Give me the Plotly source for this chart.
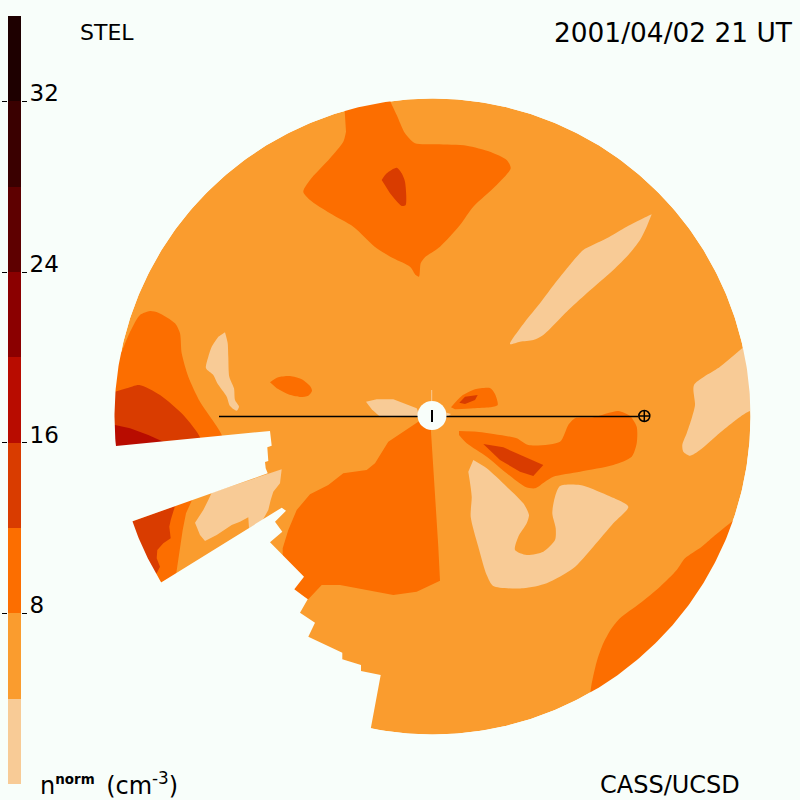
import numpy as np
import plotly.graph_objects as go

BG = "#F8FEFA"
level_edges = [0, 4, 8, 12, 16, 20, 24, 28, 32]
level_step = [4] * 9
level_colors = ["#F8CB96", "#FA9C2E", "#FC6E00", "#D93C00", "#B80C00",
                "#8B0000", "#5E0000", "#3A0000", "#1E0000"]
tick_vals = [8, 16, 24, 32]
L1, L2, L3, L4, L5 = level_colors[:5]

disk_center = (432.5, 416.5)
disk_radius = 318

# contour regions (image-plane units)
rim_left_l3 = [(121.7,351.7),(130,332),(140,315),(150,311),(158.3,312.7),(175,323.3),(180,333.3),(181.7,353.3),(188.3,376.7),(200,401.7),(221.7,435),(221.7,445),(100,450),(100,350)]
rim_left_l4 = [(115,391.7),(126.7,388.3),(139.3,385),(160,395),(183.3,415),(200,437.3),(200,445),(100,450),(100,392)]
rim_left_l5 = [(115,425),(130,428.3),(148.3,435),(163.3,441.7),(163.3,450),(100,450),(100,425)]
wedge_l3 = [(175,500),(191.7,495),(191.7,500.7),(186,513.3),(182.7,530),(180,550),(176,575),(162.3,581.7),(140,590),(120,525),(133,515)]
wedge_l4 = [(133.3,521),(175,506),(170.7,520),(169.3,526.7),(170.7,538.3),(163.3,543.3),(157.3,550),(156.7,558.3),(160,566.7),(156.7,573.3),(140,580),(120,525)]
wedge_l1 = [(211.7,492.7),(281.7,469.3),(280,483.3),(273.3,491.7),(270.7,500),(268.3,510),(262.3,520.7),(249,528.3),(248.3,517.3),(240,521.7),(231.7,525),(216.7,535),(205,541),(200,535),(195,522.7),(203.3,510),(208.3,500)]
left_light = [(225,332.3),(227.7,343.3),(228.3,356.7),(229.3,376.7),(234,388.3),(235,400),(239,406.7),(236.7,410.7),(230,406),(226.7,396.7),(217.3,383.3),(213.3,375),(206,368.3),(208.3,356.7),(211.7,346.7),(218.3,336.7)]
small_oval = [(270,382.3),(278.3,377.3),(290,376),(301.7,379.3),(310,386),(312,390.7),(308.3,395.7),(300,397),(288.3,394.3),(276.7,388.3)]
center_big = [(418.3,421.7),(388.3,441.7),(375,463.3),(366.7,470),(343.3,473.3),(328.3,485),(310,494.3),(296.7,510),(288.3,530),(282.7,548.3),(282.7,558.3),(300,578),(292,590),(308.3,599.3),(321.7,585),(340,585),(366.7,590),(393.3,595),(416.7,591.7),(440,580.7),(438.3,546.7),(433.3,473.3),(431,431.7),(431,417)]
sun_left_light = [(366,401.7),(376.7,399.3),(393.3,399.3),(416.7,408.3),(420,416.7),(391.7,417.3),(380,416.7),(371.7,409.3)]
sun_right_light = [(446.7,412.7),(451,414),(446.7,417.3)]
sun_upper_l3 = [(451,407.3),(461.7,396),(475,389.3),(490,388),(495,394),(497.7,405),(490,407.3),(473.3,408.3),(455,409.3)]
sun_upper_l4 = [(459.3,402.7),(465,396.7),(477.7,395),(475,400),(465,404)]
right_l3 = [(459,431),(476.7,431.7),(500,435),(516.7,438.3),(528.3,445),(560,441.7),(568.3,425),(575,418.3),(593.3,417.3),(618.3,411),(630,416),(636.7,426.7),(636.7,443.3),(631.7,456.7),(613.3,465),(580,471.7),(553.3,476.7),(545,481.7),(535,488.3),(525,486.7),(506.7,473.3),(486.7,456.7),(466.7,443.3),(459,435)]
right_l4 = [(483.3,444),(503.3,447.3),(543.3,465),(533.3,476),(520,471.7),(500,460)]
u_light = [(473.3,460),(486.7,468.3),(506.7,486.7),(523.3,503.3),(529,515),(526.7,523.3),(518.3,536.7),(515,550),(526.7,555),(543.3,551.7),(555,540),(555.7,528.3),(552.3,513.3),(555,496.7),(560,486),(580,485),(606.7,495),(628.3,506.7),(613.3,523.3),(593.3,546.7),(573.3,568.3),(546.7,583.3),(523.3,588.3),(493.3,586),(486.7,575),(478.3,546.7),(470.7,516.7),(471.7,496.7),(468.3,471.7)]
streak_light = [(651.7,214.3),(643.3,218.3),(626.7,226.7),(606.7,238.3),(583.3,250),(578.3,255),(568.3,266.7),(555,283.3),(540,303.3),(525,321.7),(510,344),(520,341.7),(533.3,340),(543.3,335),(566.7,311.7),(586.7,293.3),(613.3,270),(628.3,255),(640,240),(646.7,226.7)]
rim_right_light = [(742.7,347.7),(720,366.7),(694,385),(695,405),(691.7,418.3),(686.7,433.3),(682.3,445),(683.3,451.7),(690,455.7),(700,450),(723.3,430),(750,411),(770,411),(770,345)]
rim_lower_l3 = [(745,510),(731.7,521.7),(713.3,536.7),(701.7,546.7),(685,558.3),(676.7,570),(660,586.7),(640,603.3),(620,618.3),(611.7,628.3),(603.3,643.3),(596.7,661.7),(590.7,690),(590,720),(700,690),(770,560)]
top_l3 = [(344,100),(390,95),(390,100),(396.7,115),(405,133.3),(415,143.3),(436.7,144.3),(466.7,145.7),(490,151.7),(506.7,160),(510.7,168.3),(496.7,185),(473.3,206.7),(460,225),(440,246.7),(425,257.3),(420.7,263.3),(419,276.7),(415.7,275),(410,266.7),(393.3,258.3),(376.7,248.3),(353.3,226.7),(330,213.3),(310,200),(303.3,191.7),(310,180),(330,158.3),(343.3,141.7),(346,131.7)]
top_l4 = [(381.7,180),(386.7,173.3),(396.7,167.7),(401.7,173.3),(405,181.7),(405.7,205),(401.7,206),(390,193.3)]

# data gaps
gap_upper = [(116,446),(270,431),(271.7,445.7),(267.3,447.3),(268.3,461),(265,462),(265.7,468.3),(267.7,473.3),(133.3,521),(100,535),(85,447)]
gap_lower = [(162.3,581.7),(281.7,507.7),(286,510.7),(275,521.7),(282.3,531.7),(270,542.3),(304,576.7),(294.3,589.3),(307.7,599.3),(300,612.7),(315,622.7),(308.3,636.7),(342.3,652.7),(342.3,659.3),(361,665),(361,671),(380.7,675),(371,727.3),(365,770),(150,700),(140,600)]

# (outline, colour, smooth contour?)
regions = [
    (streak_light, L1, True), (rim_right_light, L1, True), (u_light, L1, True), (left_light, L1, True),
    (sun_left_light, L1, False), (sun_right_light, L1, False), (wedge_l1, L1, False),
    (rim_lower_l3, L3, True), (top_l3, L3, True), (center_big, L3, False), (small_oval, L3, True),
    (sun_upper_l3, L3, True), (right_l3, L3, True), (rim_left_l3, L3, True), (wedge_l3, L3, False),
    (top_l4, L4, True), (sun_upper_l4, L4, False), (right_l4, L4, False), (rim_left_l4, L4, True), (wedge_l4, L4, False),
    (rim_left_l5, L5, False),
    (gap_upper, BG, False), (gap_lower, BG, False),
]

sun_x, sun_y = [432], [415.5]
earth_x, earth_y = [644.3], [416]
sun_earth_x = [219, 638]
sun_earth_y = [416.5, 416.5]
sun_ray_x = [431.7, 431.7]
sun_ray_y = [390, 401]
sun_tick_x = [432, 432]
sun_tick_y = [410, 422]


def poly(points, color, smooth=False):
    xs, ys = zip(*points)
    line = dict(width=0, color=color)
    if smooth:
        line.update(shape="spline", smoothing=0.7)
    return go.Scatter(x=xs, y=ys, fill="toself", fillcolor=color, mode="lines",
                      line=line, hoverinfo="skip",
                      showlegend=False, xaxis="x", yaxis="y")


fig = go.Figure()

t = np.linspace(0, 2 * np.pi, 721)
cx, cy = disk_center
disk = list(zip(cx + disk_radius * np.cos(t), cy + disk_radius * np.sin(t)))
fig.add_trace(poly(disk, L2))
for pts, col, smooth in regions:
    fig.add_trace(poly(pts, col, smooth))

# everything outside the disk is background (outer ring and hole wound in opposite senses)
mask = [(cx + disk_radius, cy), (800, cy), (800, 0), (0, 0), (0, 800), (800, 800), (800, cy),
        (cx + disk_radius, cy)] + disk
fig.add_trace(poly(mask, BG))

fig.add_trace(go.Scatter(x=sun_ray_x, y=sun_ray_y, mode="lines", line=dict(color=L1, width=1),
                         hoverinfo="skip", showlegend=False))
fig.add_trace(go.Scatter(x=sun_earth_x, y=sun_earth_y, mode="lines", line=dict(color="black", width=1.3),
                         hoverinfo="skip", showlegend=False))
fig.add_trace(go.Scatter(x=sun_x, y=sun_y, mode="markers", marker=dict(color=BG, size=29, line=dict(width=0)),
                         hoverinfo="skip", showlegend=False))
fig.add_trace(go.Scatter(x=sun_tick_x, y=sun_tick_y, mode="lines", line=dict(color="black", width=2),
                         hoverinfo="skip", showlegend=False))
fig.add_trace(go.Scatter(x=earth_x, y=earth_y, mode="markers",
                         marker=dict(symbol="circle-cross-open", color="black", size=11, line=dict(width=1.5, color="black")),
                         hoverinfo="skip", showlegend=False))

# colour bar
fig.add_trace(go.Bar(x=[0.5] * len(level_step), y=level_step, width=1, marker=dict(color=level_colors, line=dict(width=0)),
                     xaxis="x2", yaxis="y2", hoverinfo="skip", showlegend=False))

FONT = "DejaVu Sans"
texts = [
    ("STEL", 78, 32, "left", 22),
    ("2001/04/02 21 UT", 795, 32, "right", 26.4),
    ("n<sup><span style=\"font-size:80%;font-weight:bold\">norm</span></sup>&nbsp;<span style=\"font-size:50%\">&nbsp;</span>(cm<sup>-3</sup>)", 38, 784, "left", 24),
    ("CASS/UCSD", 742, 785, "right", 24),
]
for s, x, y, anchor, size in texts:
    fig.add_annotation(text=s, x=x, y=y, xref="x", yref="y", xanchor=anchor, yanchor="middle",
                       showarrow=False, font=dict(family=FONT, size=size, color="black"))

fig.update_layout(
    width=800, height=800, margin=dict(l=0, r=0, t=0, b=0),
    paper_bgcolor=BG, plot_bgcolor=BG, barmode="stack", bargap=0, showlegend=False,
    xaxis=dict(domain=[0, 1], range=[0, 800], visible=False, fixedrange=True),
    yaxis=dict(domain=[0, 1], range=[800, 0], visible=False, fixedrange=True),
    xaxis2=dict(domain=[8 / 800, 21 / 800], range=[0, 1], visible=False, anchor="y2", fixedrange=True),
    yaxis2=dict(domain=[16 / 800, 784 / 800], range=[0, 36], anchor="x2", side="right",
                tickmode="array", tickvals=tick_vals, ticktext=[str(v) for v in tick_vals],
                ticks="outside", ticklen=5, tickwidth=1, tickcolor="black", showgrid=False, zeroline=False,
                showline=False, mirror="ticks", ticklabelstandoff=-2, ticklabelshift=-8,
                tickfont=dict(family=FONT, size=23, color="black"), fixedrange=True),
)

fig.write_html("out.html", config=dict(displayModeBar=False),
               post_script="document.body.style.margin='0';document.body.style.background='%s';" % BG)
